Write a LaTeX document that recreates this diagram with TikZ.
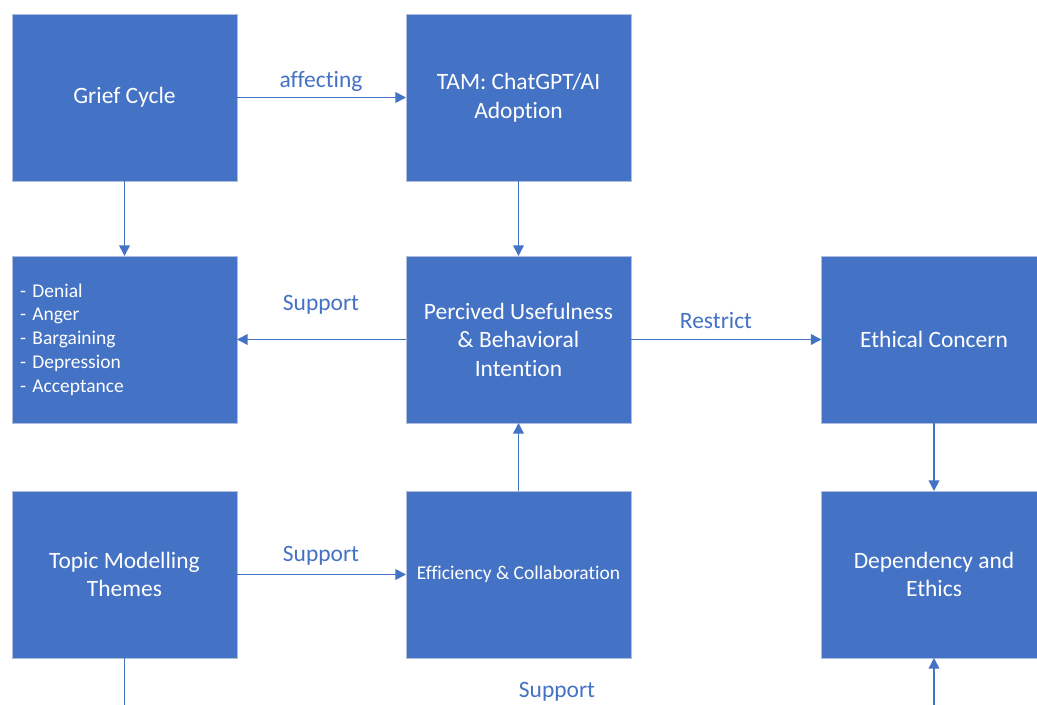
\documentclass[tikz,border=0pt]{standalone}
\usepackage{fontspec}
\setmainfont{Carlito}[Ligatures={NoCommon}]
\usetikzlibrary{arrows.meta}
\definecolor{boxblue}{HTML}{4472C4}
\definecolor{boxedge}{HTML}{AFBEDB}
\begin{document}
\begin{tikzpicture}[x=0.75pt,y=-0.75pt,
  box/.style={rectangle,draw=boxedge,line width=0.6pt,fill=boxblue,text=white,
    minimum width=168.75pt,minimum height=125.25pt,inner sep=0pt,outer sep=0pt,
    align=center,font=\fontsize{17.6}{21.4}\selectfont},
  smallbox/.style={box,font=\fontsize{14.6}{17.8}\selectfont},
  listbox/.style={box,font=\fontsize{14.6}{17.8}\selectfont,align=left,
    text width=156.75pt,inner xsep=6pt},
  arr/.style={draw=boxblue,line width=1.2pt,-{Triangle[length=8pt,width=8pt]}},
  conn/.style={draw=boxblue,line width=1.2pt},
  lbl/.style={text=boxblue,font=\fontsize{17.6}{21.4}\selectfont,inner sep=0pt}]
\useasboundingbox (0,0) rectangle (1037,705);
\clip (0,0) rectangle (1037,705);
\fill[white] (0,0) rectangle (1037,705);

\node[box] (grief) at (124.5,97.5) {Grief Cycle};
\node[box] (tam) at (518.5,97.5) {TAM: ChatGPT/AI\\Adoption};
\node[listbox] (stages) at (124.5,339.5) {- Denial\\- Anger\\- Bargaining\\- Depression\\- Acceptance};
\node[box] (perc) at (518.5,339.5) {Percived Usefulness\\\& Behavioral\\Intention};
\node[box] (ethic) at (934,339.5) {Ethical Concern};
\node[box] (topic) at (124.5,574.5) {Topic Modelling\\Themes};
\node[smallbox] (eff) at (518.5,574.5) {Efficiency \& Collaboration};
\node[box] (dep) at (934,574.5) {Dependency and\\Ethics};

\coordinate (tbot) at (124.5,720);
\coordinate (dbot) at (934,720);

\draw[arr] (grief.east) -- (tam.west);
\draw[arr] (grief.south) -- (stages.north);
\draw[arr] (tam.south) -- (perc.north);
\draw[arr] (perc.west) -- (stages.east);
\draw[arr] (perc.east) -- (ethic.west);
\draw[arr] (ethic.south) -- (dep.north);
\draw[arr] (topic.east) -- (eff.west);
\draw[arr] (eff.north) -- (perc.south);
\draw[conn] (topic.south) -- (tbot);
\draw[arr] (dbot) -- (dep.south);

\node[lbl] (laff) at (321,81) {affecting};
\node[lbl] (lsup1) at (321,305) {Support};
\node[lbl] (lres) at (716,321) {Restrict};
\node[lbl] (lsup2) at (321,556) {Support};
\node[lbl] (lsup3) at (557,692) {Support};
\end{tikzpicture}
\end{document}
